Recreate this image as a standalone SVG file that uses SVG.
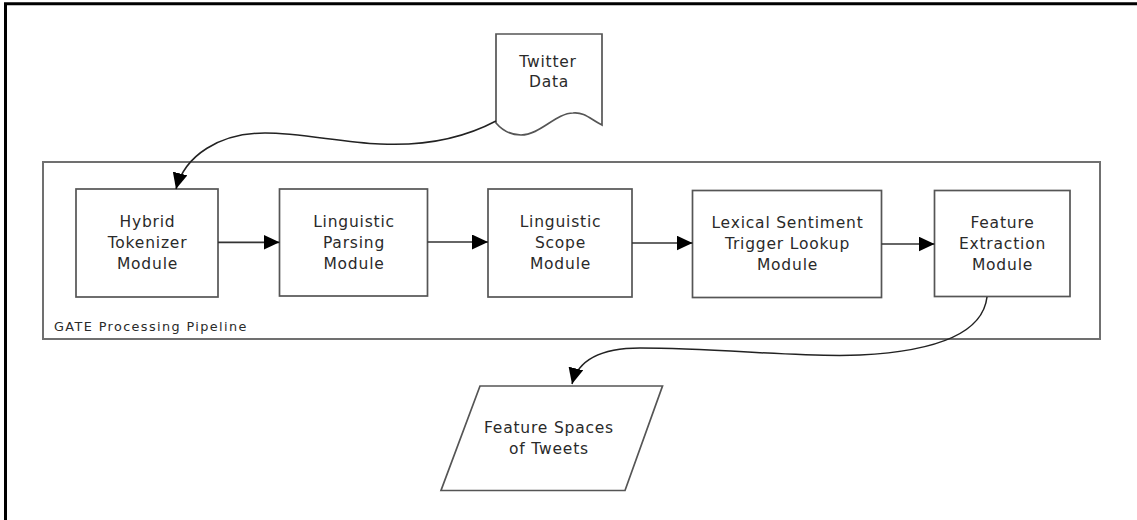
<svg xmlns="http://www.w3.org/2000/svg" width="1137" height="520" viewBox="0 0 1137 520">
<defs>
<style>
.frame{fill:none;stroke:#000;stroke-width:3}
.cont{fill:none;stroke:#707070;stroke-width:2}
.box{fill:#fff;stroke:#555;stroke-width:1.7}
.t{font-family:"DejaVu Sans",sans-serif;font-size:15.5px;letter-spacing:0.8px;fill:#2a2a2a;text-anchor:middle}
.lbl{font-family:"DejaVu Sans",sans-serif;font-size:12.8px;letter-spacing:1.4px;fill:#2a2a2a}
.edge{fill:none;stroke:#333;stroke-width:1.7}
.curve{fill:none;stroke:#222;stroke-width:1.5}
</style>
<marker id="ah" markerUnits="userSpaceOnUse" markerWidth="18" markerHeight="16" refX="16" refY="7.5" orient="auto">
<path d="M0,0 L16,7.5 L0,15 Z" fill="#000"/>
</marker>
</defs>
<rect width="1137" height="520" fill="#fff"/>
<path class="frame" d="M5.5,520 V3.8 H1137"/>

<g id="pipeline">
<rect class="cont" x="43" y="162" width="1057" height="177"/>
<text class="lbl" x="54" y="331">GATE Processing Pipeline</text>
</g>

<g id="twitter-data">
<path class="box" d="M496,34 L602,34 L602,125 C590,119 585,112 573,113 C556,113 540,135 521,135 C510,135 502,130 496,123 Z"/>
<text class="t" x="548" y="67">Twitter</text>
<text class="t" x="549" y="87">Data</text>
</g>

<g id="hybrid-tokenizer">
<rect class="box" x="76" y="189" width="142" height="108"/>
<text class="t" x="147.5" y="227">Hybrid</text>
<text class="t" x="147.5" y="248">Tokenizer</text>
<text class="t" x="147.5" y="269">Module</text>
</g>

<g id="linguistic-parsing">
<rect class="box" x="279.5" y="189" width="148" height="107"/>
<text class="t" x="354" y="227">Linguistic</text>
<text class="t" x="354" y="248">Parsing</text>
<text class="t" x="354" y="269">Module</text>
</g>

<g id="linguistic-scope">
<rect class="box" x="488" y="189" width="144" height="108"/>
<text class="t" x="560.5" y="227">Linguistic</text>
<text class="t" x="560.5" y="248">Scope</text>
<text class="t" x="560.5" y="269">Module</text>
</g>

<g id="lexical-sentiment">
<rect class="box" x="692.5" y="190.5" width="189" height="107"/>
<text class="t" x="787.5" y="228">Lexical Sentiment</text>
<text class="t" x="787.5" y="249">Trigger Lookup</text>
<text class="t" x="787.5" y="270">Module</text>
</g>

<g id="feature-extraction">
<rect class="box" x="934.5" y="190.5" width="135.5" height="106"/>
<text class="t" x="1002.5" y="228">Feature</text>
<text class="t" x="1002.5" y="249">Extraction</text>
<text class="t" x="1002.5" y="270">Module</text>
</g>

<g id="feature-spaces">
<path class="box" d="M480,386 L662.5,386 L625,490.5 L441,490.5 Z"/>
<text class="t" x="549" y="433">Feature Spaces</text>
<text class="t" x="549" y="454">of Tweets</text>
</g>

<g id="connectors">
<path class="curve" d="M496,121 C460,140 420,146 380,144 C340,142 300,133 265,133 C220,133 185,155 176,189" marker-end="url(#ah)"/>
<line class="edge" x1="218" y1="242.3" x2="279.5" y2="242.3" marker-end="url(#ah)"/>
<line class="edge" x1="427.5" y1="242" x2="488" y2="242" marker-end="url(#ah)"/>
<line class="edge" x1="632" y1="243" x2="692.5" y2="243" marker-end="url(#ah)"/>
<line class="edge" x1="881.5" y1="244" x2="934.5" y2="244" marker-end="url(#ah)"/>
<path class="curve" d="M987,297 C982,340 920,352 860,355 C800,358 720,348 640,348 C600,348 578,360 572,384" marker-end="url(#ah)"/>
</g>
</svg>
